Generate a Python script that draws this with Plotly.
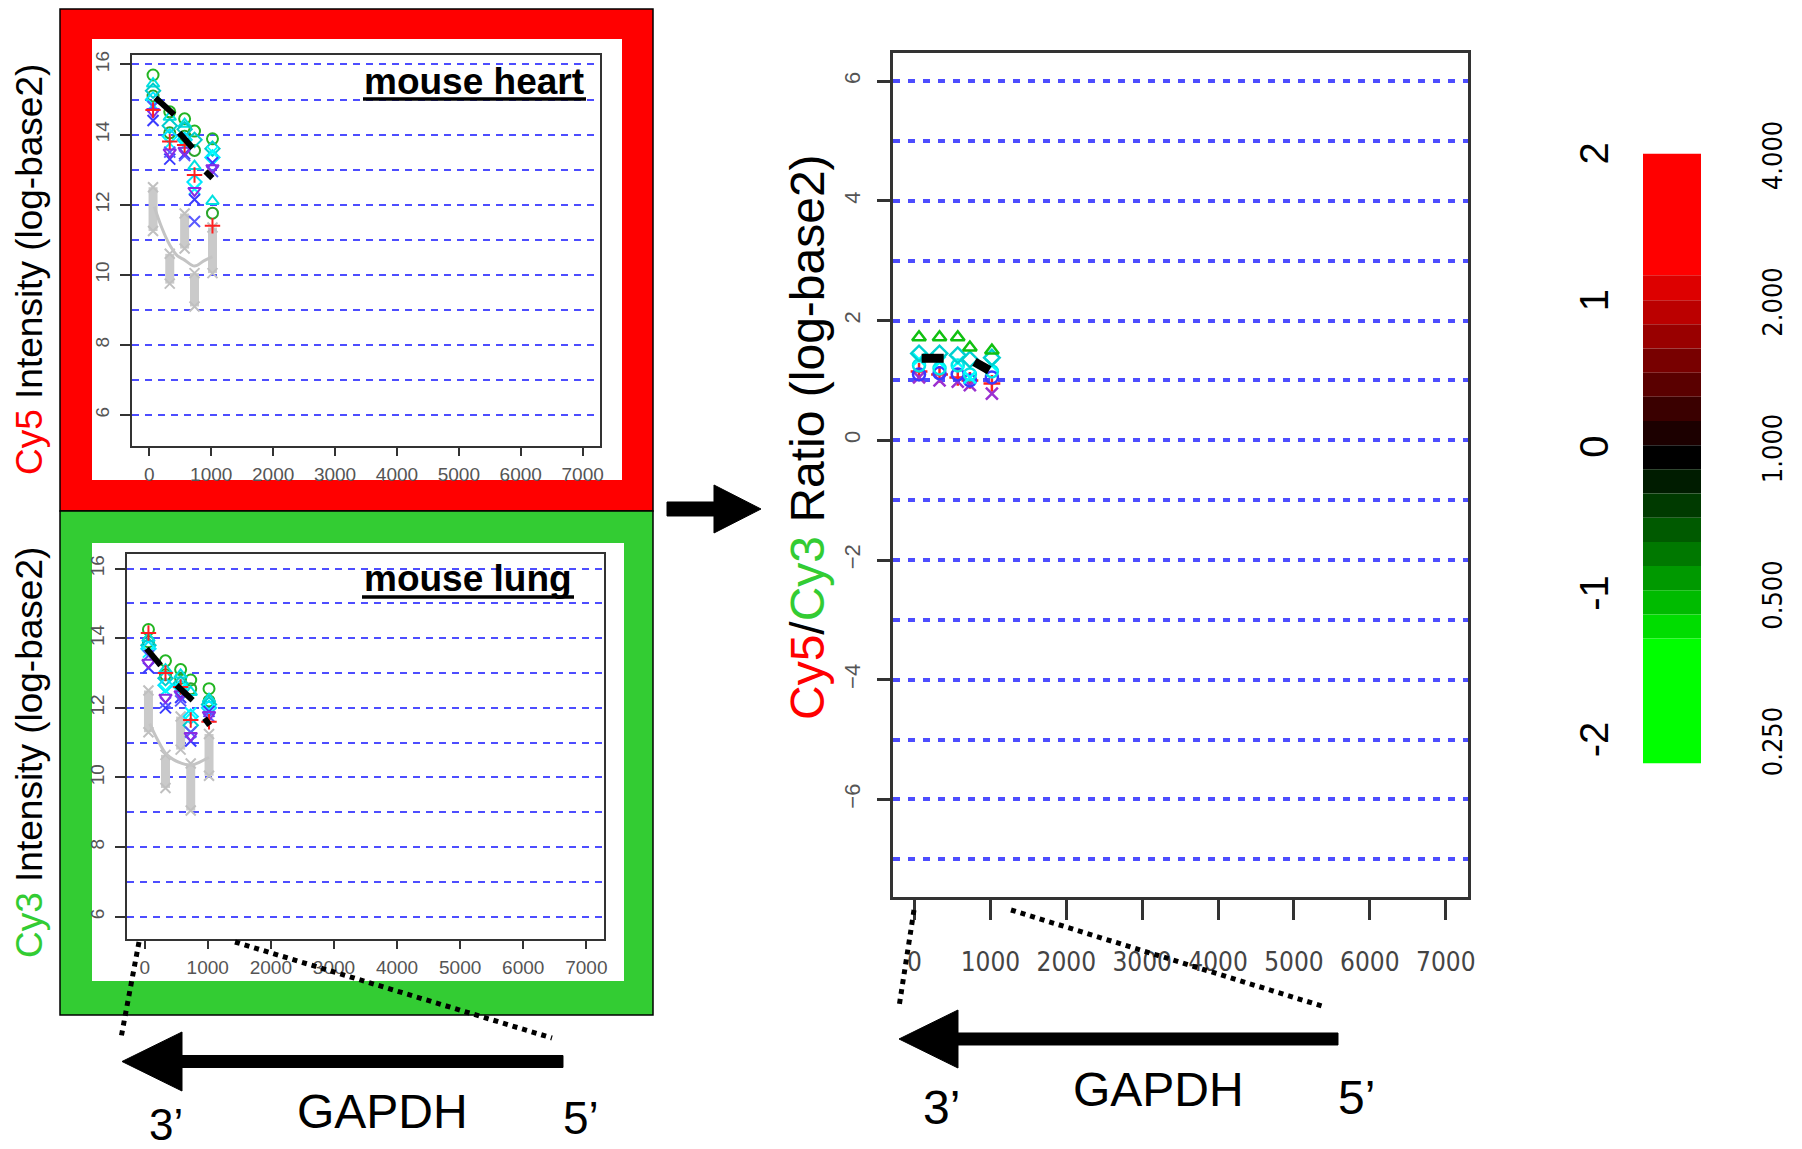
import plotly.graph_objects as go

# The page body adds an 8px margin, so the figure is drawn 8px smaller and
# every reference pixel position is shifted by that offset.
OFF = 8
W, H = 1802 - OFF, 1149 - OFF

# ---------------- data ----------------
probe_pos = [60, 330, 570, 730, 1020]
x_ticks = [0, 1000, 2000, 3000, 4000, 5000, 6000, 7000]

# mouse heart (Cy5) log2 intensities per probe, one list per replicate spot
heart_green = [15.70, 14.65, 14.45, 14.10, 13.88]
heart_green_b = [15.10, 14.05, 13.95, 13.55, 11.76]
heart_cyan_tri = [15.45, 14.50, 14.30, 13.10, 12.10]
heart_cyan_dia = [15.25, 14.25, 14.15, 13.85, 13.60]
heart_cyan_dia_b = [15.00, 13.95, 13.85, 12.65, 13.35]
heart_cyan_x = [14.85, 13.75, 13.70, 12.45, 13.50]
heart_blue_x = [14.40, 13.30, 13.45, 12.15, 13.20]
heart_blue_x_b = [14.80, 13.50, 13.40, 11.52, 12.95]
heart_purple = [14.65, 13.50, 13.55, 12.40, 13.05]
heart_red = [14.70, 13.80, 13.70, 12.85, 11.40]
heart_bg_top = [12.50, 10.60, 11.75, 10.05, 11.35]
heart_bg_bottom = [11.25, 9.75, 10.75, 9.10, 10.05]
heart_curve_x = [80, 200, 330, 450, 570, 730, 880, 1020]
heart_curve_y = [11.95, 11.35, 10.85, 10.55, 10.42, 10.25, 10.40, 10.52]
heart_mean_x = [100, 400, None, 483, 700, None, 908, 1018]
heart_mean_y = [15.05, 14.57, None, 14.05, 13.62, None, 12.95, 12.76]

# mouse lung (Cy3)
lung_green = [14.25, 13.35, 13.10, 12.80, 12.55]
lung_green_b = [13.90, 12.95, 12.85, 12.55, 12.20]
lung_cyan_tri = [14.00, 13.10, 12.95, 12.45, 12.25]
lung_cyan_dia = [13.80, 12.85, 12.70, 11.50, 12.10]
lung_cyan_dia_b = [13.70, 12.65, 12.60, 11.75, 12.00]
lung_cyan_x = [13.60, 12.50, 12.55, 11.85, 11.95]
lung_blue_x = [13.15, 12.00, 12.30, 11.05, 11.90]
lung_blue_x_b = [13.50, 12.15, 12.20, 11.30, 11.75]
lung_purple = [13.30, 12.30, 12.40, 11.20, 11.80]
lung_red = [14.15, 13.00, 12.60, 11.65, 11.60]
lung_bg_top = [12.50, 10.65, 11.75, 10.40, 11.25]
lung_bg_bottom = [11.30, 9.70, 10.80, 9.05, 10.05]
lung_curve_x = [80, 200, 330, 450, 570, 730, 880, 1020]
lung_curve_y = [11.55, 11.10, 10.70, 10.52, 10.42, 10.35, 10.45, 10.58]
lung_mean_x = [30, 253, None, 506, 760, None, 950, 1030]
lung_mean_y = [13.70, 13.22, None, 12.65, 12.22, None, 11.70, 11.50]

# Cy5/Cy3 log2 ratios
ratio_green = [1.72, 1.72, 1.72, 1.55, 1.50]
ratio_cyan_dia = [1.45, 1.45, 1.42, 1.35, 1.38]
ratio_cyan_x = [1.35, 1.30, 1.30, 1.05, 1.25]
ratio_cyan_circ = [1.25, 1.20, 1.25, 1.10, 1.15]
ratio_blue = [1.10, 1.12, 1.10, 1.00, 1.05]
ratio_purple = [1.05, 1.00, 0.98, 0.92, 0.78]
ratio_red = [1.15, 1.10, 1.05, 1.00, 0.95]
ratio_mean_x = [94, 385, None, 790, 985]
ratio_mean_y = [1.37, 1.37, None, 1.31, 1.17]

# colour key
cbar_edges = [2.04, 1.21, 1.04, 0.875, 0.71, 0.545, 0.38, 0.215, 0.05,
              -0.115, -0.28, -0.445, -0.61, -0.775, -0.94, -1.105, -1.27, -2.12]
cbar_colors = ["#ff0000", "#dd0000", "#bb0000", "#990000", "#780000", "#5a0000",
               "#3a0000", "#1c0000", "#000000", "#001c00", "#003a00", "#005a00",
               "#007800", "#009900", "#00bb00", "#00dd00", "#00ff00"]
cbar_ticks = [2, 1, 0, -1, -2]
cbar_tick_text = ["2", "1", "0", "-1", "-2"]
cbar_ratio_text = ["4.000", "2.000", "1.000", "0.500", "0.250"]

# ---------------- helpers ----------------
def px(x):
    return (x - OFF) / W


def py(y):
    return 1 - (y - OFF) / H


SANS = "Liberation Sans, Arial, Helvetica, sans-serif"
NARROW = "Liberation Sans Narrow, Arial Narrow, DejaVu Sans Condensed, Liberation Sans, sans-serif"
GRID = "#4d4dff"
RED = "#ff0000"
GREEN = "#33cc33"

fig = go.Figure()

series_style = [
    ("circle-open", "#22b522"),
    ("circle-open", "#2aa52a"),
    ("triangle-up-open", "#00e0e0"),
    ("diamond-open", "#00cccc"),
    ("diamond-open", "#00e5ff"),
    ("x-thin-open", "#00ffff"),
    ("x-thin-open", "#3a3aff"),
    ("x-thin-open", "#5a5aff"),
    ("triangle-down-open", "#8a2be2"),
    ("cross-thin-open", "#ff2020"),
]


def add_intensity_panel(xa, ya, series, bg_top, bg_bot, cx, cy, mx, my):
    gx, gy = [], []
    for p, t, b in zip(probe_pos, bg_top, bg_bot):
        gx += [p, p, None]
        gy += [b, t, None]
    fig.add_trace(go.Scatter(x=gx, y=gy, mode="lines", xaxis=xa, yaxis=ya,
                             line=dict(color="#cacaca", width=9), showlegend=False,
                             hoverinfo="skip"))
    fig.add_trace(go.Scatter(x=gx, y=gy, mode="markers", xaxis=xa, yaxis=ya,
                             marker=dict(symbol="x-thin-open", size=10, color="#c0c0c0",
                                         line=dict(color="#c0c0c0", width=2)),
                             showlegend=False, hoverinfo="skip"))
    fig.add_trace(go.Scatter(x=cx, y=cy, mode="lines", xaxis=xa, yaxis=ya,
                             line=dict(color="#c4c4c4", width=3, shape="spline"),
                             showlegend=False, hoverinfo="skip"))
    for vals, (sym, col) in zip(series, series_style):
        fig.add_trace(go.Scatter(x=probe_pos, y=vals, mode="markers", xaxis=xa, yaxis=ya,
                                 marker=dict(symbol=sym, size=11, color=col,
                                             line=dict(color=col, width=2)),
                                 showlegend=False))
    fig.add_trace(go.Scatter(x=mx, y=my, mode="lines", xaxis=xa, yaxis=ya,
                             line=dict(color="black", width=6), showlegend=False,
                             connectgaps=False))


add_intensity_panel("x", "y",
                    [heart_green, heart_green_b, heart_cyan_tri, heart_cyan_dia,
                     heart_cyan_dia_b, heart_cyan_x, heart_blue_x, heart_blue_x_b,
                     heart_purple, heart_red],
                    heart_bg_top, heart_bg_bottom, heart_curve_x, heart_curve_y,
                    heart_mean_x, heart_mean_y)
add_intensity_panel("x2", "y2",
                    [lung_green, lung_green_b, lung_cyan_tri, lung_cyan_dia,
                     lung_cyan_dia_b, lung_cyan_x, lung_blue_x, lung_blue_x_b,
                     lung_purple, lung_red],
                    lung_bg_top, lung_bg_bottom, lung_curve_x, lung_curve_y,
                    lung_mean_x, lung_mean_y)

ratio_series = [
    (ratio_red, "cross-thin-open", "#ff2020"),
    (ratio_purple, "x-thin-open", "#9b30d0"),
    (ratio_blue, "circle-open", "#3a3aff"),
    (ratio_cyan_circ, "circle-open", "#00e5e5"),
    (ratio_cyan_x, "x-thin-open", "#00ffff"),
    (ratio_cyan_dia, "diamond-open", "#00d0d0"),
    (ratio_green, "triangle-up-open", "#10c010"),
]
for vals, sym, col in ratio_series:
    fig.add_trace(go.Scatter(x=probe_pos, y=vals, mode="markers", xaxis="x3", yaxis="y3",
                             marker=dict(symbol=sym, size=12, color=col,
                                         line=dict(color=col, width=2.5)),
                             showlegend=False))
fig.add_trace(go.Scatter(x=ratio_mean_x, y=ratio_mean_y, mode="lines", xaxis="x3", yaxis="y3",
                         line=dict(color="black", width=9), showlegend=False))

# colour key as stacked bar segments
fig.add_trace(go.Bar(x=[0] * len(cbar_colors),
                     y=[cbar_edges[i] - cbar_edges[i + 1] for i in range(len(cbar_colors))],
                     base=cbar_edges[1:], width=1, xaxis="x4", yaxis="y4",
                     marker=dict(color=cbar_colors, line=dict(width=0)),
                     showlegend=False, hoverinfo="skip"))
fig.add_trace(go.Scatter(x=[0], y=[0], xaxis="x4", yaxis="y5", mode="markers",
                         marker=dict(opacity=0), showlegend=False, hoverinfo="skip"))


def x_axis(domain, rng, font, ticklen, standoff, lw, anchor):
    return dict(domain=domain, range=rng, tickmode="array", tickvals=x_ticks,
                ticktext=[str(v) for v in x_ticks], ticks="outside", ticklen=ticklen,
                tickwidth=lw, tickcolor="#333", showline=True, linecolor="#333",
                linewidth=lw, mirror=True, showgrid=False, zeroline=False,
                tickfont=font, ticklabelstandoff=standoff, anchor=anchor,
                automargin=False)


def y_axis(domain, rng, font, ticklen, standoff, lw, gw, dash, anchor):
    return dict(domain=domain, range=rng, tickmode="linear", tick0=0, dtick=2,
                ticks="outside", ticklen=ticklen, tickwidth=lw, tickcolor="#333",
                tickangle=-90, showline=True, linecolor="#333", linewidth=lw,
                mirror=True, showgrid=True, gridcolor=GRID, gridwidth=gw, griddash=dash,
                minor=dict(tick0=0, dtick=1, showgrid=True, gridcolor=GRID, gridwidth=gw,
                           griddash=dash, ticks=""),
                zeroline=False, tickfont=font, ticklabelstandoff=standoff, anchor=anchor,
                automargin=False)


small_font = dict(family=SANS, size=19, color="#555")
small_yfont = dict(family=SANS, size=19, color="#555")
ratio_xfont = dict(family=NARROW, size=26, color="#444")
ratio_yfont = dict(family=SANS, size=22, color="#555")

layout_axes = dict(
    xaxis=x_axis([px(132), px(600)], [-280, 7280], small_font, 8, 2, 2, "y"),
    yaxis=y_axis([py(446), py(55)], [5.12, 16.27], small_yfont, 10, 3, 2, 2, "7px,6px", "x"),
    xaxis2=x_axis([px(127), px(604)], [-280, 7280], small_font, 8, 2, 2, "y2"),
    yaxis2=y_axis([py(939), py(554)], [5.36, 16.42], small_yfont, 10, 3, 2, 2, "7px,6px", "x2"),
    xaxis3=x_axis([px(893), px(1468)], [-283, 7293], ratio_xfont, 20, 20, 2.5, "y3"),
    yaxis3=y_axis([py(897), py(53)], [-7.63, 6.47], ratio_yfont, 13, 8, 2.5, 4, "7px,8px", "x3"),
    xaxis4=dict(domain=[px(1643), px(1701)], range=[-0.5, 0.5], visible=False, anchor="y4",
                automargin=False),
    yaxis4=dict(domain=[py(775), py(140)], range=[-2.201, 2.133], anchor="x4",
                tickmode="array", tickvals=cbar_ticks, ticktext=cbar_tick_text,
                ticks="", showline=False, showgrid=False, zeroline=False,
                tickangle=-90, tickfont=dict(family=SANS, size=40, color="black"),
                ticklabelstandoff=26, automargin=False),
    yaxis5=dict(domain=[py(775), py(140)], range=[-2.201, 2.133], anchor="x4",
                overlaying="y4", side="right",
                tickmode="array", tickvals=cbar_ticks, ticktext=cbar_ratio_text,
                ticks="", showline=False, showgrid=False, zeroline=False,
                tickangle=-90, tickfont=dict(family=NARROW, size=27, color="black"),
                ticklabelstandoff=53, automargin=False),
)

shapes = []
# coloured frames and white inner panels
shapes.append(dict(type="rect", xref="paper", yref="paper", x0=px(60), x1=px(653),
                   y0=py(511), y1=py(9), fillcolor=RED, line=dict(color="black", width=1.5),
                   layer="below"))
shapes.append(dict(type="rect", xref="paper", yref="paper", x0=px(60), x1=px(653),
                   y0=py(1015), y1=py(511), fillcolor=GREEN, line=dict(color="black", width=1.5),
                   layer="below"))
shapes.append(dict(type="rect", xref="paper", yref="paper", x0=px(92), x1=px(622),
                   y0=py(480), y1=py(39), fillcolor="white", line=dict(width=0), layer="below"))
shapes.append(dict(type="rect", xref="paper", yref="paper", x0=px(92), x1=px(624),
                   y0=py(981), y1=py(543), fillcolor="white", line=dict(width=0), layer="below"))

# underlines for panel titles
shapes.append(dict(type="line", xref="paper", yref="paper", x0=px(363), x1=px(586),
                   y0=py(99), y1=py(99), line=dict(color="black", width=3.5)))
shapes.append(dict(type="line", xref="paper", yref="paper", x0=px(362), x1=px(574),
                   y0=py(597), y1=py(597), line=dict(color="black", width=3.5)))


def arrow_path(tip_x, tip_y, head_x, head_half, shaft_end, shaft_half):
    pts = [(tip_x, tip_y), (head_x, tip_y - head_half), (head_x, tip_y - shaft_half),
           (shaft_end, tip_y - shaft_half), (shaft_end, tip_y + shaft_half),
           (head_x, tip_y + shaft_half), (head_x, tip_y + head_half)]
    return "M " + " L ".join(f"{px(a):.5f},{py(b):.5f}" for a, b in pts) + " Z"


for path in [arrow_path(761, 509, 714, 24, 667, 7),
             arrow_path(122, 1061.5, 182, 29.5, 563, 6),
             arrow_path(899, 1039, 958, 29, 1338, 6)]:
    shapes.append(dict(type="path", xref="paper", yref="paper", path=path,
                       fillcolor="black", line=dict(color="black", width=1)))

for (xa, ya, xb, yb) in [(139, 942, 121, 1038), (235, 942, 552, 1038),
                         (914, 910, 899, 1007), (1011, 910, 1325, 1007)]:
    shapes.append(dict(type="line", xref="paper", yref="paper", x0=px(xa), y0=py(ya),
                       x1=px(xb), y1=py(yb),
                       line=dict(color="black", width=5, dash="5px,5px")))

annotations = []


def ann(text, x, y, size, angle=0, xanchor="center"):
    annotations.append(dict(text=text, x=px(x), y=py(y), xref="paper", yref="paper",
                            showarrow=False, textangle=angle, xanchor=xanchor,
                            yanchor="middle",
                            font=dict(family=SANS, size=size, color="black")))


ann("<b>mouse heart</b>", 586, 81, 37, xanchor="right")
ann("<b>mouse lung</b>", 574, 578, 37, xanchor="right")
ann(f'<span style="color:{RED}">Cy5</span> Intensity (log-base2)', 29, 270, 37, angle=-90)
ann(f'<span style="color:{GREEN}">Cy3</span> Intensity (log-base2)', 29, 753, 37, angle=-90)
ann(f'<span style="color:{RED}">Cy5</span>/<span style="color:{GREEN}">Cy3</span> Ratio (log-base2)',
    808, 437, 48, angle=-90)
ann("GAPDH", 382, 1111, 48)
ann("3\u2019", 166, 1124, 44)
ann("5\u2019", 581, 1118, 46)
ann("GAPDH", 1158, 1089, 48)
ann("3\u2019", 941, 1107, 48)
ann("5\u2019", 1356, 1097, 48)

fig.update_layout(
    width=W, height=H, margin=dict(l=0, r=0, t=0, b=0, pad=0, autoexpand=False),
    paper_bgcolor="white", plot_bgcolor="white",
    showlegend=False, barmode="overlay",
    shapes=shapes, annotations=annotations,
    **layout_axes,
)

fig.write_html("out.html")
